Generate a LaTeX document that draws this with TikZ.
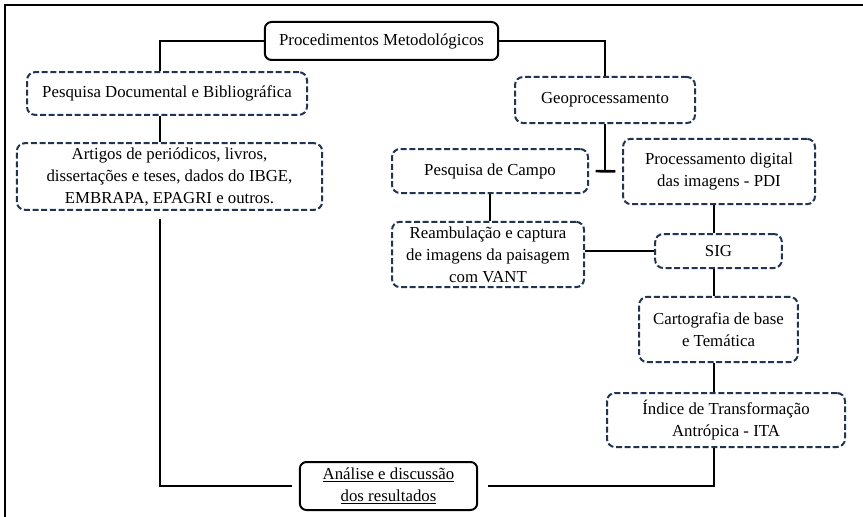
\documentclass[tikz,border=0pt]{standalone}
\usepackage{fontspec}
\setmainfont{Liberation Serif}
\usetikzlibrary{positioning,calc}
\definecolor{boxblue}{RGB}{34,52,82}
\tikzset{
	dashbox/.style={rectangle, draw=boxblue, line width=1.5pt, dash pattern=on 4.5pt off 2pt,
		rounded corners=6pt, fill=white, align=center, inner sep=2pt,
		font=\fontsize{12.6}{16.5}\selectfont},
	solidbox/.style={rectangle, draw=black, line width=1.5pt, rounded corners=5pt,
		fill=white, align=center, inner sep=2pt, font=\fontsize{12.6}{16.5}\selectfont},
	link/.style={draw=black, line width=2pt}
}

\begin{document}
\begin{tikzpicture}[x=0.75pt, y=-0.75pt]
			\useasboundingbox (0,0) rectangle (863,517);
			% frame
			\draw[line width=1.6pt] (863,5) -- (5,5) -- (5,517);
			% left branch
			\node[solidbox, minimum width=175pt, minimum height=28.5pt] (proc) at (381.5,41) {Procedimentos Metodológicos};
			\node[dashbox, minimum width=210pt, minimum height=32pt] (pd) at (167,93.5) {Pesquisa Documental e Bibliográfica};
			\node[dashbox, minimum width=229pt, minimum height=50pt] (art) at (169.5,176.5) {Artigos de periódicos, livros,\\dissertações e teses, dados do IBGE,\\EMBRAPA, EPAGRI e outros.};
			\node[solidbox, minimum width=133pt, minimum height=36pt] (ana) at (388.5,486) {\underline{Análise e discussão}\\\underline{dos resultados}};
			% right branch
			\node[dashbox, minimum width=135pt, minimum height=34.5pt] (geo) at (605,100) {Geoprocessamento};
			\node[dashbox, minimum width=147pt, minimum height=33pt] (campo) at (490,171) {Pesquisa de Campo};
			\node[dashbox, minimum width=144pt, minimum height=49pt] (pdi) at (719,171.5) {Processamento digital\\das imagens - PDI};
			\node[dashbox, minimum width=144pt, minimum height=49pt] (ream) at (488,254.5) {Reambulação e captura\\de imagens da paisagem\\com VANT};
			\node[dashbox, minimum width=95pt, minimum height=25.5pt] (sig) at (718.5,251) {SIG};
			\node[dashbox, minimum width=119pt, minimum height=49pt] (cart) at (718.5,329.5) {Cartografia de base\\e Temática};
			\node[dashbox, minimum width=178.5pt, minimum height=40.5pt] (ita) at (726,420) {Índice de Transformação\\Antrópica - ITA};
			\coordinate (lcol) at (160,0);
			\coordinate (rcol) at (714,0);
			% connectors
			\draw[link] (proc.west) -| (lcol |- pd.north);
			\draw[link] (proc.east) -| (geo.north);
			\draw[link] (lcol |- pd.south) -- (lcol |- art.north);
			\draw[link] ([yshift=-6pt]lcol |- art.south) |- ([xshift=-5pt]ana.west);
			\draw[link] (geo.south) -- (geo.south |- campo.east);
			\draw[link, shorten <=5pt, shorten >=5pt] (campo.east) -- (pdi.west);
			\draw[link] (campo.south) -- (campo.south |- ream.north);
			\draw[link] (ream.east |- sig.west) -- (sig.west);
			\draw[link] (rcol |- pdi.south) -- (rcol |- sig.north);
			\draw[link] (rcol |- sig.south) -- (rcol |- cart.north);
			\draw[link] (rcol |- cart.south) -- (rcol |- ita.north);
			\draw[link] (rcol |- ita.south) |- ([xshift=7pt]ana.east);
		\end{tikzpicture}
\end{document}
